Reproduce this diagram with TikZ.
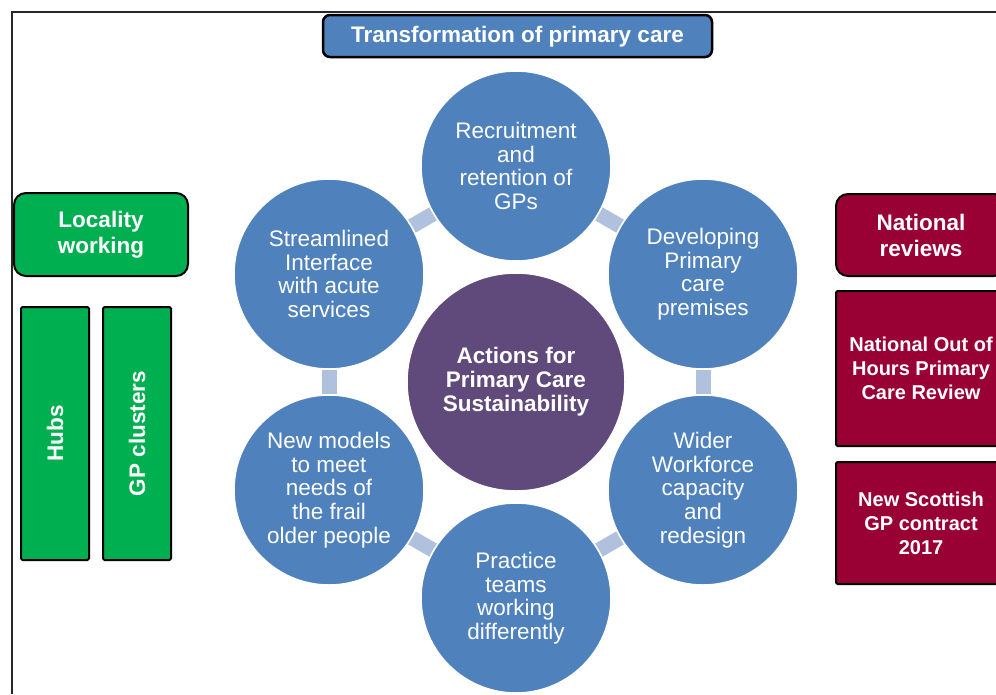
\documentclass[tikz,border=0pt]{standalone}
\usepackage{fontspec}
\setmainfont{Liberation Sans}
\usetikzlibrary{backgrounds}
\definecolor{careblue}{HTML}{4F81BD}
\definecolor{carepurple}{HTML}{604A7B}
\definecolor{caregreen}{HTML}{00B050}
\definecolor{caremaroon}{HTML}{990033}
\definecolor{carelink}{HTML}{B0C1DD}

\begin{document}
\begin{tikzpicture}[x=1pt,y=-1pt,
	  every node/.style={align=center,text=white,inner sep=0pt},
	  action/.style={circle,fill=careblue,draw=white,line width=1.5pt,minimum size=190pt,
	    font=\fontsize{22.5}{23.6}\selectfont},
	  link/.style={draw=carelink,line width=15pt}]
	  \tikzstyle{head} = [rounded corners=12pt,draw=black,line width=2pt,
	    font=\bfseries\fontsize{22.5}{26}\selectfont]
	  \tikzstyle{sub} = [rounded corners=1.5pt,draw=black,line width=2pt,
	    font=\bfseries\fontsize{20}{24}\selectfont]
	  \useasboundingbox (0,0) rectangle (996,694);
	  \clip (0,0) rectangle (996,694);
	  \draw[line width=1.6pt,black!85] (12,694) |- (996,12);
	  % title
	  \node (title) [draw=black,line width=2.5pt,rounded corners=7pt,fill=careblue,
	    minimum width=389pt,minimum height=42pt,text depth=4pt,
	    font=\bfseries\fontsize{22.5}{26}\selectfont]
	    at (517.5,36) {Transformation of primary care};
	  % cycle
	  \node (centre) [circle,fill=carepurple,draw=white,line width=1.5pt,minimum size=218pt,
	    font=\bfseries\fontsize{22.5}{24}\selectfont] at (516,382)
	    {Actions for\\Primary Care\\Sustainability};
	  \node (recruit) [action] at (516,166) {Recruitment\\and\\retention of\\GPs};
	  \node (premises) [action] at (703,274) {Developing\\Primary\\care\\premises};
	  \node (workforce) [action] at (703,490) {Wider\\Workforce\\capacity\\and\\redesign};
	  \node (practice) [action] at (516,598) {Practice\\teams\\working\\differently};
	  \node (frail) [action] at (329,490) {New models\\to meet\\needs of\\the frail\\older people};
	  \node (interface) [action] at (329,274) {Streamlined\\Interface\\with acute\\services};
	  \begin{scope}[on background layer]
	    \draw[link] (recruit) -- (premises);
	    \draw[link] (premises) -- (workforce);
	    \draw[link] (workforce) -- (practice);
	    \draw[link] (practice) -- (frail);
	    \draw[link] (frail) -- (interface);
	    \draw[link] (interface) -- (recruit);
	  \end{scope}
	  % locality
	  \node (locality) [head,fill=caregreen,minimum width=174pt,minimum height=83pt]
	    at (101,234.5) {Locality\\working};
	  \node (hubs) [sub,fill=caregreen,rotate=90,minimum width=253pt,minimum height=68pt,
	    font=\bfseries\fontsize{22.5}{26}\selectfont] at (55,433.5) {Hubs};
	  \node (clusters) [sub,fill=caregreen,rotate=90,minimum width=253pt,minimum height=68pt,
	    font=\bfseries\fontsize{22.5}{26}\selectfont] at (137,433.5) {GP clusters};
	  % national
	  \node (reviews) [head,fill=caremaroon,minimum width=170pt,minimum height=82pt]
	    at (921,235) {National\\reviews};
	  \node (ooh) [sub,fill=caremaroon,minimum width=170pt,minimum height=155pt]
	    at (921,368.5) {National Out of\\Hours Primary\\Care Review};
	  \node (contract) [sub,fill=caremaroon,minimum width=170pt,minimum height=122pt]
	    at (921,523) {New Scottish\\GP contract\\2017};
	\end{tikzpicture}
\end{document}
